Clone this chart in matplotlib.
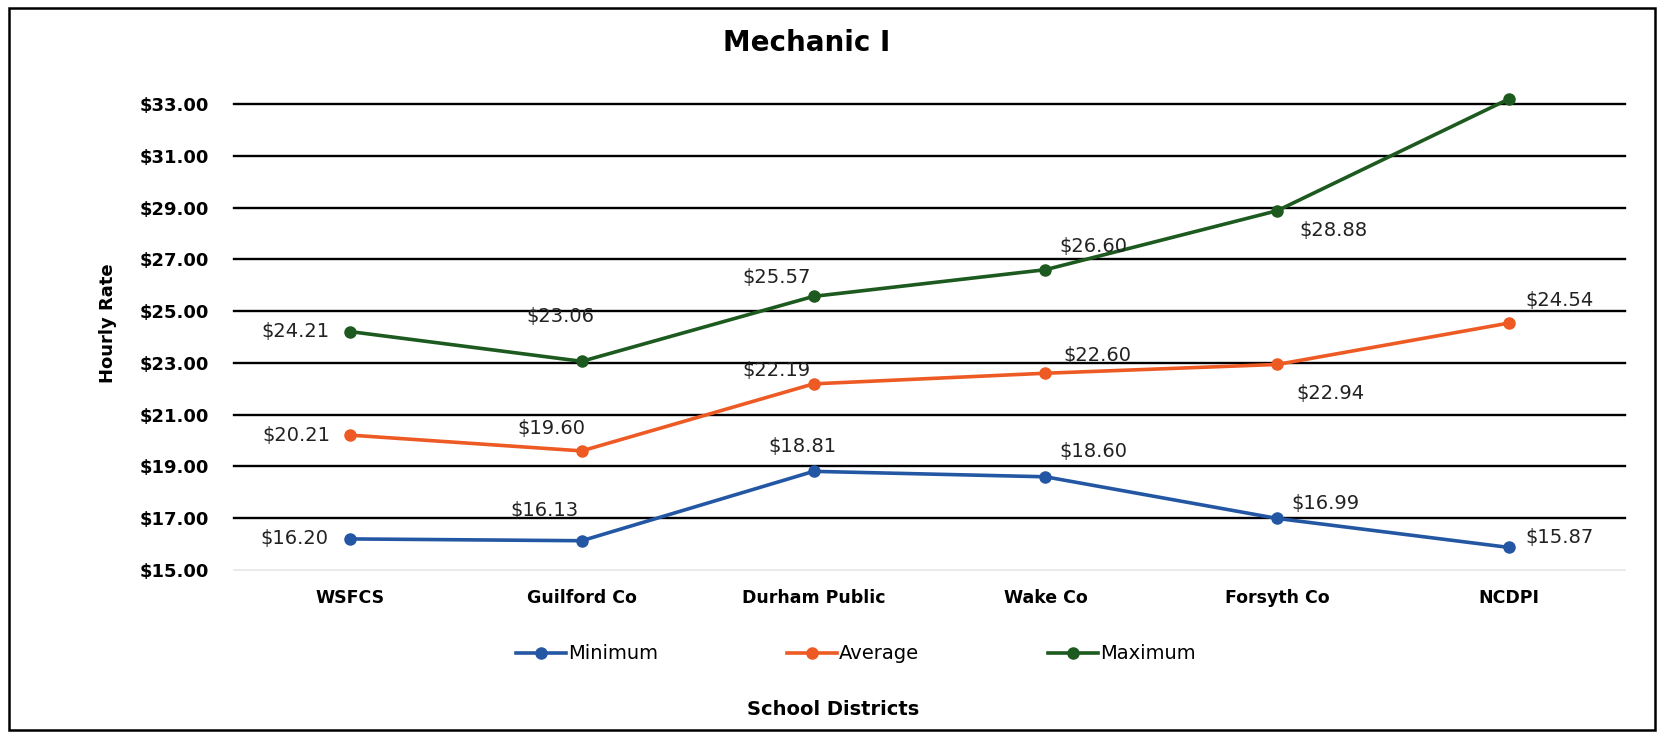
import numpy as np
import matplotlib
matplotlib.use("Agg")
import matplotlib.pyplot as plt
from matplotlib.patches import Rectangle

# data
districts = ["WSFCS", "Guilford Co", "Durham Public", "Wake Co", "Forsyth Co", "NCDPI"]
minimum = [16.20, 16.13, 18.81, 18.60, 16.99, 15.87]
average = [20.21, 19.60, 22.19, 22.60, 22.94, 24.54]
maximum = [24.21, 23.06, 25.57, 26.60, 28.88, 33.20]
y_ticks = [15, 17, 19, 21, 23, 25, 27, 29, 31, 33]

# label offsets (pixels) from each point
off_min = [(-56, 0), (-37, 30), (-11, 25), (48, 25), (48, 15), (50, 10)]
off_avg = [(-54, 0), (-30, 22), (-37, 13), (52, 18), (53, -29), (50, 23)]
off_max = [(-54, 0), (-21, 45), (-37, 19), (48, 23), (56, -20), (55, 13)]

series = [
    ("Minimum", minimum, "#2457a3", off_min),
    ("Average", average, "#ee5a24", off_avg),
    ("Maximum", maximum, "#1d5a1f", off_max),
]

plt.rcParams['font.family'] = ['DejaVu Sans']

fig = plt.figure(figsize=(16.63, 7.33), dpi=100)
ax = fig.add_axes([0.1407, 0.2224, 0.8365, 0.6357])

x = np.arange(len(districts))

# gridlines
for v in y_ticks:
    if v == y_ticks[0]:
        ax.axhline(v, color="#e6e6e6", lw=1.2, zorder=1, clip_on=False)
    else:
        ax.axhline(v, color="black", lw=1.7, zorder=1, clip_on=False)

for name, vals, col, offs in series:
    ax.plot(x, vals, color=col, lw=2.6, marker="o", markersize=8,
            label=name, zorder=3, clip_on=False)
    for xi, v, (dx, dy) in zip(x, vals, offs):
        ax.annotate(f"${v:.2f}", (xi, v), xytext=(dx, dy), textcoords="offset pixels",
                    ha="center", va="center", fontsize=14, color="#222222")

ax.set_xlim(-0.5, len(districts) - 0.5)
ax.set_ylim(15, 33)
ax.set_yticks(y_ticks)
ax.set_yticklabels([f"${v:.2f}" for v in y_ticks], fontsize=13, fontweight="bold")
ax.set_xticks(x)
ax.set_xticklabels(districts, fontsize=12.5, fontweight="bold")
ax.tick_params(axis="y", length=0, pad=18)
ax.tick_params(axis="x", length=0, pad=14)
for s in ax.spines.values():
    s.set_visible(False)

ax.set_ylabel("Hourly Rate", fontsize=13, fontweight="bold")
ax.yaxis.set_label_coords(-0.084, 0.53)
ax.set_xlabel("School Districts", fontsize=14, fontweight="bold")
ax.xaxis.set_label_coords(0.431, -0.279)

fig.text(0.485, 0.941, "Mechanic I", ha="center", va="center",
         fontsize=20, fontweight="bold")

ax.legend(loc="center", bbox_to_anchor=(0.447, -0.18), ncol=3, frameon=False,
          fontsize=14, handlelength=2.6, columnspacing=6.6, handletextpad=0.1)

# outer border
fig.patches.append(Rectangle((0.0055, 0.004), 0.9895, 0.985, transform=fig.transFigure,
                             fill=False, edgecolor="black", lw=1.8))

fig.savefig("out.png", dpi=100)
